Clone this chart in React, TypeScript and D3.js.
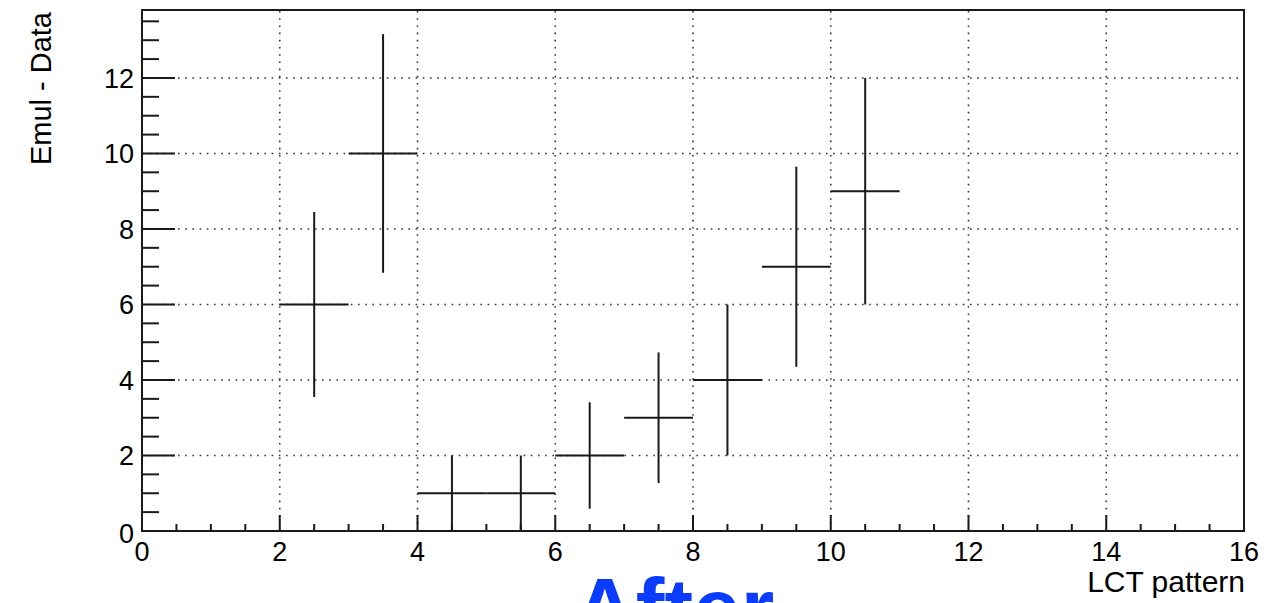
import React from "react";
import * as d3 from "d3";

// Histogram bins (LCT pattern), content and error
const binLow: number[] = [2, 3, 4, 5, 6, 7, 8, 9, 10];
const binHigh: number[] = [3, 4, 5, 6, 7, 8, 9, 10, 11];
const values: number[] = [6, 10, 1, 1, 2, 3, 4, 7, 9];
const errors: number[] = [2.45, 3.16, 1, 1, 1.41, 1.73, 2, 2.65, 3];

const xMajorTicks: number[] = [0, 2, 4, 6, 8, 10, 12, 14, 16];
const yMajorTicks: number[] = [0, 2, 4, 6, 8, 10, 12];
const xTitle = "LCT pattern";
const yTitle = "Emul - Data";
const overlayText = "After";

const W = 1276;
const H = 603;
const frame = { left: 142, right: 1244, top: 10, bottom: 531 };

export default function App() {
  const x = d3.scaleLinear().domain([0, 16]).range([frame.left, frame.right]);
  const y = d3.scaleLinear().domain([0, 13.8]).range([frame.bottom, frame.top]);

  const xMinor = d3.range(0, 16.001, 0.5);
  const yMinor = d3.range(0, 13.8, 0.5);

  const font = "'Liberation Sans', Arial, Helvetica, sans-serif";
  const ink = "#1a1a1a";

  return (
    <svg
      width={W}
      height={H}
      viewBox={`0 0 ${W} ${H}`}
      style={{ position: "absolute", left: 0, top: 0, background: "#fff" }}
    >
      {/* grid */}
      <g stroke="#333" strokeWidth={1.6} strokeDasharray="1.6,5.6" fill="none">
        {xMajorTicks
          .filter((t) => t > 0 && t < 16)
          .map((t) => (
            <line key={"gx" + t} x1={x(t)} x2={x(t)} y1={frame.bottom} y2={frame.top} />
          ))}
        {yMajorTicks
          .filter((t) => t > 0)
          .map((t) => (
            <line key={"gy" + t} x1={frame.left} x2={frame.right} y1={y(t)} y2={y(t)} />
          ))}
      </g>

      {/* ticks */}
      <g stroke={ink} strokeWidth={2}>
        {xMinor.map((t) => {
          const major = Math.abs(t % 2) < 1e-9;
          return (
            <line
              key={"xt" + t}
              x1={x(t)}
              x2={x(t)}
              y1={frame.bottom}
              y2={frame.bottom - (major ? 16 : 7)}
            />
          );
        })}
        {yMinor.map((t) => {
          const major = Math.abs(t % 2) < 1e-9;
          return (
            <line
              key={"yt" + t}
              x1={frame.left}
              x2={frame.left + (major ? 33 : 17)}
              y1={y(t)}
              y2={y(t)}
            />
          );
        })}
      </g>

      {/* data: error crosses */}
      <g stroke={ink} strokeWidth={2} fill="none">
        {values.map((v, i) => (
          <g key={"d" + i}>
            <line x1={x(binLow[i])} x2={x(binHigh[i])} y1={y(v)} y2={y(v)} />
            <line
              x1={x((binLow[i] + binHigh[i]) / 2)}
              x2={x((binLow[i] + binHigh[i]) / 2)}
              y1={y(Math.max(0, v - errors[i]))}
              y2={y(v + errors[i])}
            />
          </g>
        ))}
      </g>

      {/* frame */}
      <rect
        x={frame.left}
        y={frame.top}
        width={frame.right - frame.left}
        height={frame.bottom - frame.top}
        fill="none"
        stroke={ink}
        strokeWidth={2}
      />

      {/* tick labels */}
      <g fontFamily={font} fontSize={27} fill="#000">
        {xMajorTicks.map((t) => (
          <text key={"xl" + t} x={x(t)} y={561} textAnchor="middle">
            {t}
          </text>
        ))}
        {yMajorTicks.map((t) => (
          <text
            key={"yl" + t}
            x={frame.left - 8}
            y={y(t)}
            dy={t === 0 ? "0.45em" : "0.36em"}
            textAnchor="end"
          >
            {t}
          </text>
        ))}
      </g>

      {/* axis titles */}
      <text
        x={1245}
        y={592}
        textAnchor="end"
        fontFamily={font}
        fontSize={30}
        fill="#000"
      >
        {xTitle}
      </text>
      <text
        transform={`translate(51, ${12}) rotate(-90)`}
        textAnchor="end"
        fontFamily={font}
        fontSize={29}
        fill="#000"
      >
        {yTitle}
      </text>

      {/* overlay label */}
      <text
        x={674}
        y={638}
        textAnchor="middle"
        fontFamily={font}
        fontWeight="bold"
        fontSize={86}
        fill="#0a3cff"
      >
        {overlayText}
      </text>
    </svg>
  );
}
